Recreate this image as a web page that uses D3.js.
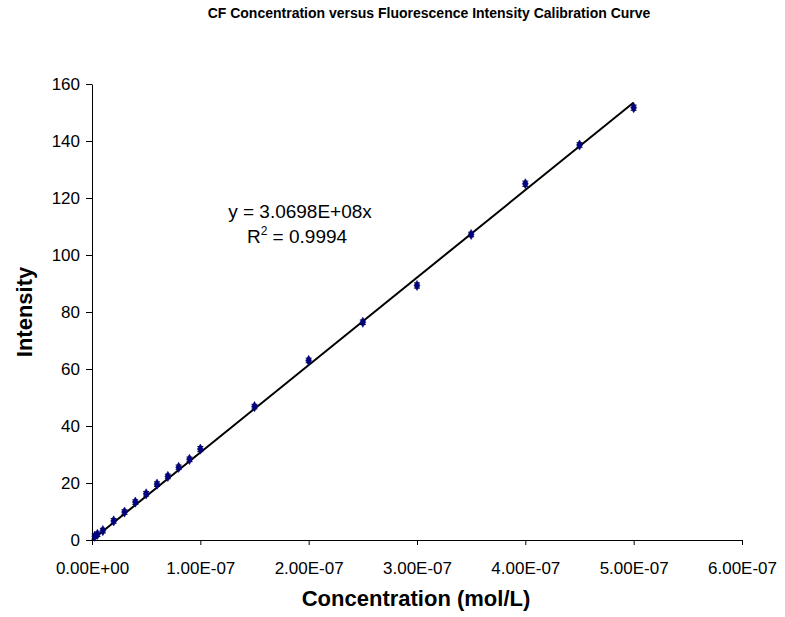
<!DOCTYPE html>
<html>
<head>
<meta charset="utf-8">
<script src="https://cdn.jsdelivr.net/npm/d3@7"></script>
<style>
  body { margin: 0; background: #fff; }
  text { font-family: "Liberation Sans", Arial, sans-serif; }
</style>
</head>
<body>
<script>
const width = 785, height = 617;

// concentration (mol/L) and measured intensity
const concentrations = [2.5e-9, 5e-9, 1e-8, 2e-8, 3e-8, 4e-8, 5e-8, 6e-8, 7e-8, 8e-8, 9e-8, 1e-7,
    1.5e-7, 2e-7, 2.5e-7, 3e-7, 3.5e-7, 4e-7, 4.5e-7, 5e-7];
const intensities = [1.3, 2.0, 3.3, 6.7, 9.8, 13.3, 16.2, 19.6, 22.3, 25.5, 28.3, 31.9,
    46.8, 63.0, 76.4, 89.3, 107.2, 125.0, 138.6, 151.7];
const errors = [0.8, 0.8, 0.8, 0.8, 0.8, 0.8, 0.8, 0.8, 0.8, 0.8, 0.8, 0.9,
    0.8, 0.8, 0.8, 0.9, 0.8, 0.9, 0.8, 0.9];
const slope = 3.0698e8;
const xTicks = [0, 1e-7, 2e-7, 3e-7, 4e-7, 5e-7, 6e-7];
const yTicks = [0, 20, 40, 60, 80, 100, 120, 140, 160];

const data = concentrations.map((c, i) => ({ c: c, v: intensities[i], e: errors[i] }));

const svg = d3.select("body")
    .append("svg")
    .attr("width", width)
    .attr("height", height);

const x = d3.scaleLinear().domain([0, 6e-7]).range([92, 742]);
const y = d3.scaleLinear().domain([0, 160]).range([540, 84]);

// axes
const xAxis = svg.append("g")
    .attr("transform", `translate(0,${y(0)})`)
    .call(d3.axisBottom(x).tickValues(xTicks).tickSize(5).tickSizeOuter(0)
        .tickFormat(d => d.toExponential(2).toUpperCase().replace(/E([+-])(\d)$/, "E$10$2")));
xAxis.selectAll("text").attr("font-size", 17).attr("y", 8).attr("dy", "1.55em").attr("fill", "#000");

const yAxis = svg.append("g")
    .attr("transform", `translate(${x(0)},0)`)
    .call(d3.axisLeft(y).tickValues(yTicks).tickSize(6).tickSizeOuter(0));
yAxis.selectAll("text").attr("font-size", 17).attr("x", -12).attr("fill", "#000");

svg.selectAll(".domain, .tick line").attr("stroke", "#000").attr("stroke-width", 1);
svg.selectAll("g").attr("font-family", null);

// trendline through origin
svg.append("line")
    .attr("x1", x(0)).attr("y1", y(0))
    .attr("x2", x(5e-7)).attr("y2", y(slope * 5e-7))
    .attr("stroke", "#000").attr("stroke-width", 2);

// error bars
const eb = svg.selectAll(".err").data(data).enter().append("g").attr("class", "err");
eb.append("line")
    .attr("x1", d => x(d.c)).attr("x2", d => x(d.c))
    .attr("y1", d => y(d.v - d.e)).attr("y2", d => y(d.v + d.e))
    .attr("stroke", "#000").attr("stroke-width", 1);
[-1, 1].forEach(s => {
    eb.append("line")
        .attr("x1", d => x(d.c) - 3).attr("x2", d => x(d.c) + 3)
        .attr("y1", d => y(d.v + s * d.e)).attr("y2", d => y(d.v + s * d.e))
        .attr("stroke", "#000").attr("stroke-width", 1);
});

// markers
svg.selectAll(".pt").data(data).enter().append("path")
    .attr("class", "pt")
    .attr("transform", d => `translate(${x(d.c)},${y(d.v)})`)
    .attr("d", d3.symbol().type(d3.symbolDiamond).size(30))
    .attr("fill", "#000080")
    .attr("stroke", "#000080")
    .attr("stroke-width", 0.5);

// equation
svg.append("text").attr("font-size", 19).attr("text-anchor", "middle").attr("fill", "#000")
    .attr("x", 300).attr("y", 218).text("y = 3.0698E+08x");
const r2 = svg.append("text").attr("font-size", 19).attr("text-anchor", "middle").attr("fill", "#000")
    .attr("x", 297).attr("y", 243);
r2.append("tspan").text("R");
r2.append("tspan").attr("font-size", 12).attr("dy", -8).text("2");
r2.append("tspan").attr("dy", 8).text(" = 0.9994");

// titles
svg.append("text")
    .attr("x", 429).attr("y", 18)
    .attr("text-anchor", "middle")
    .attr("font-size", 14).attr("font-weight", "bold")
    .text("CF Concentration versus Fluorescence Intensity Calibration Curve");

svg.append("text")
    .attr("x", 416).attr("y", 606)
    .attr("text-anchor", "middle")
    .attr("font-size", 22).attr("font-weight", "bold")
    .text("Concentration (mol/L)");

svg.append("text")
    .attr("transform", "translate(32,312) rotate(-90)")
    .attr("text-anchor", "middle")
    .attr("font-size", 22).attr("font-weight", "bold")
    .text("Intensity");
</script>
</body>
</html>
